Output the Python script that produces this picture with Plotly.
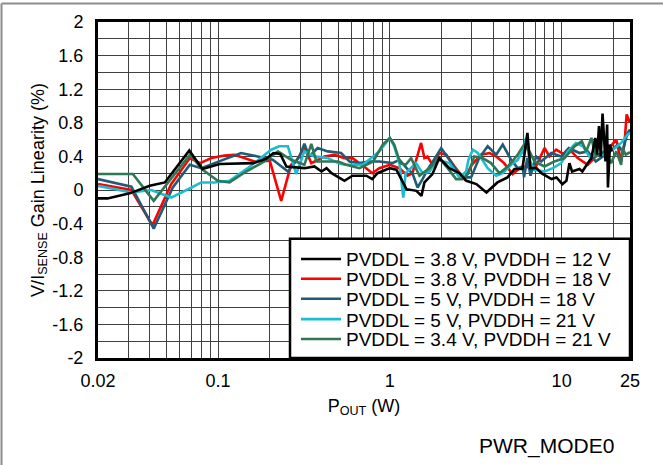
import plotly.graph_objects as go
import math

# ---------------- data ----------------
black_p = [0.02, 0.0227, 0.0306, 0.040, 0.049, 0.068, 0.081, 0.102, 0.16, 0.19, 0.21, 0.23, 0.25,
           0.318, 0.364, 0.40, 0.428, 0.458, 0.544, 0.606, 0.73, 0.79, 0.847, 1.0, 1.093, 1.249,
           1.428, 1.527, 1.589, 1.77, 1.94, 2.22, 2.54, 2.79, 3.19, 3.65, 4.23, 4.84, 5.31, 5.91,
           6.32, 6.58, 7.13, 7.63, 8.73, 9.33, 10.1, 10.66, 11.1, 11.5, 12.7, 13.2, 14.1, 14.9,
           15.7, 16.1, 16.5, 16.9, 17.3, 18.0, 18.4, 18.6, 19.1, 19.6]
black_v = [-0.10, -0.10, -0.04, 0.05, 0.09, 0.47, 0.25, 0.31, 0.32, 0.37, 0.44, 0.43, 0.28,
           0.26, 0.28, 0.22, 0.26, 0.20, 0.11, 0.17, 0.17, 0.13, 0.20, 0.26, 0.24, 0.01,
           -0.01, -0.07, 0.09, 0.19, 0.38, 0.26, 0.20, 0.11, 0.07, -0.03, 0.09, 0.15, 0.25, 0.25,
           0.68, 0.26, 0.26, 0.20, 0.13, 0.15, 0.07, 0.11, 0.32, 0.22, 0.25, 0.22, 0.31, 0.38,
           0.62, 0.42, 0.76, 0.40, 0.91, 0.34, 0.78, 0.03, 0.54, 0.46]

red_p = [0.02, 0.0313, 0.0415, 0.0533, 0.0685, 0.0787, 0.0914, 0.109, 0.1246, 0.163, 0.20, 0.233,
         0.266, 0.285, 0.318, 0.349, 0.416, 0.476, 0.544, 0.606, 0.728, 0.79, 0.868, 1.0, 1.137,
         1.266, 1.354, 1.52, 1.589, 1.655, 1.77, 1.94, 2.13, 2.38, 2.72, 3.0, 3.40, 3.80, 4.16,
         4.62, 5.19, 5.68, 6.21, 6.94, 7.95, 8.49, 9.29, 10.4, 11.4, 12.4, 14.2, 15.8, 18.6,
         20.8, 22.2, 23.2, 23.9, 25]
red_v = [0.07, 0.00, -0.42, 0.07, 0.38, 0.32, 0.38, 0.41, 0.42, 0.34, 0.35, -0.13,
         0.30, 0.34, 0.51, 0.32, 0.40, 0.42, 0.38, 0.38, 0.26, 0.20, 0.26, 0.30, 0.26,
         0.17, 0.20, 0.56, 0.38, 0.40, 0.30, 0.44, 0.42, 0.28, 0.13, 0.30, 0.42, 0.44, 0.40,
         0.32, 0.19, 0.26, 0.28, 0.24, 0.50, 0.40, 0.48, 0.42, 0.46, 0.38, 0.30, 0.40, 0.48,
         0.60, 0.34, 0.54, 0.90, 0.80]

teal_p = [0.02, 0.0313, 0.0422, 0.0545, 0.0685, 0.0798, 0.0952, 0.136, 0.170, 0.208, 0.255, 0.298,
          0.318, 0.339, 0.380, 0.435, 0.52, 0.582, 0.665, 0.76, 0.868, 1.035, 1.137, 1.266, 1.354,
          1.45, 1.55, 1.655, 1.83, 1.99, 2.22, 2.47, 2.72, 2.97, 3.31, 3.71, 4.16, 4.54, 5.08,
          5.55, 5.94, 6.04, 6.31, 6.59, 7.1, 7.6, 8.69, 9.94, 11.0, 12.7, 14.2, 15.8, 18.6,
          21.2, 22.6, 24.2, 25]
teal_v = [0.13, 0.04, -0.46, 0.03, 0.30, 0.26, 0.32, 0.44, 0.40, 0.36, 0.22, 0.40,
          0.55, 0.40, 0.50, 0.46, 0.44, 0.34, 0.32, 0.34, 0.34, 0.32, 0.36, 0.25, 0.20,
          0.03, 0.13, 0.24, 0.38, 0.50, 0.36, 0.22, 0.15, 0.15, 0.38, 0.52, 0.42, 0.54, 0.36,
          0.26, 0.28, 0.15, 0.38, 0.17, 0.40, 0.34, 0.44, 0.40, 0.50, 0.44, 0.46, 0.34, 0.44,
          0.54, 0.46, 0.68, 0.72]

cyan_p = [0.02, 0.0313, 0.0408, 0.0533, 0.0701, 0.0798, 0.0952, 0.1165, 0.149, 0.204, 0.227, 0.255,
          0.285, 0.318, 0.364, 0.435, 0.50, 0.544, 0.608, 0.695, 0.80, 0.868, 1.0, 1.06, 1.137,
          1.197, 1.236, 1.42, 1.55, 1.70, 1.89, 2.22, 2.54, 2.78, 2.87, 3.04, 3.25, 3.71, 4.16,
          4.54, 5.08, 5.55, 5.94, 6.21, 6.5, 6.94, 7.95, 8.89, 9.94, 10.9, 12.1, 13.3, 14.5,
          15.8, 17.8, 19.9, 22.2, 24.2, 25]
cyan_v = [0.05, -0.03, 0.00, -0.09, 0.03, 0.09, 0.09, 0.11, 0.26, 0.48, 0.52, 0.52,
          0.19, 0.46, 0.40, 0.38, 0.32, 0.30, 0.30, 0.30, 0.40, 0.46, 0.62, 0.52, 0.32,
          -0.09, 0.20, 0.32, 0.20, 0.22, 0.36, 0.32, 0.15, 0.22, 0.36, 0.48, 0.44, 0.26, 0.17,
          0.20, 0.30, 0.36, 0.46, 0.62, 0.36, 0.24, 0.22, 0.26, 0.32, 0.46, 0.56, 0.52, 0.40,
          0.42, 0.42, 0.48, 0.56, 0.66, 0.68]

green_p = [0.02, 0.0319, 0.0422, 0.0533, 0.0685, 0.0815, 0.0996, 0.1165, 0.1458, 0.186, 0.223,
           0.266, 0.298, 0.318, 0.349, 0.373, 0.435, 0.50, 0.557, 0.665, 0.80, 0.91, 1.0, 1.06,
           1.15, 1.236, 1.33, 1.487, 1.70, 1.94, 2.17, 2.43, 2.65, 2.87, 3.1, 3.46, 3.88, 4.34,
           4.86, 5.55, 6.04, 6.5, 6.94, 7.95, 9.08, 10.4, 11.9, 13.1, 13.9, 14.9, 15.8, 17.8,
           19.4, 20.8, 22.2, 22.6, 23.6, 25]
green_v = [0.19, 0.19, -0.13, 0.13, 0.42, 0.24, 0.11, 0.09, 0.22, 0.34, 0.46,
           0.36, 0.32, 0.30, 0.55, 0.34, 0.34, 0.34, 0.30, 0.26, 0.34, 0.54, 0.62, 0.54,
           0.32, 0.30, 0.38, 0.17, 0.26, 0.38, 0.26, 0.13, 0.13, 0.20, 0.40, 0.38, 0.32, 0.20,
           0.28, 0.42, 0.54, 0.46, 0.34, 0.28, 0.34, 0.38, 0.52, 0.58, 0.46, 0.62, 0.40, 0.46,
           0.32, 0.46, 0.30, 0.50, 0.42, 0.45]

series_names = ["PVDDL = 3.8 V, PVDDH = 12 V",
                "PVDDL = 3.8 V, PVDDH = 18 V",
                "PVDDL = 5 V, PVDDH = 18 V",
                "PVDDL = 5 V, PVDDH = 21 V",
                "PVDDL = 3.4 V, PVDDH = 21 V"]
series_colors = ["#000000", "#FF0000", "#1F5C75", "#1CBDD0", "#2F7757"]
series_x = [black_p, red_p, teal_p, cyan_p, green_p]
series_y = [black_v, red_v, teal_v, cyan_v, green_v]

x_grid = [0.02, 0.03, 0.04, 0.05, 0.06, 0.07, 0.08, 0.09,
          0.1, 0.2, 0.3, 0.4, 0.5, 0.6, 0.7, 0.8, 0.9,
          1, 2, 3, 4, 5, 6, 7, 8, 9, 10, 20, 25]
x_labels = {0.02: "0.02", 0.1: "0.1", 1: "1", 10: "10", 25: "25"}
y_grid = [round(-2 + 0.2 * i, 1) for i in range(21)]

for xs, ys in zip(series_x, series_y):
    assert len(xs) == len(ys)

FONT = "Liberation Sans, Arial, sans-serif"

fig = go.Figure()
# draw order: colored first, black last (black spikes sit on top in the reference)
order = [1, 2, 3, 4, 0]
legend_ids = ["legend", "legend2", "legend3", "legend4", "legend5"]
for i in order:
    fig.add_trace(go.Scatter(
        x=series_x[i], y=series_y[i], mode="lines", name=series_names[i],
        line=dict(color=series_colors[i], width=2.6),
        legend=legend_ids[i], showlegend=True))

# plot geometry (pixels)
L, R, T, B = 98, 33, 20, 107
W, H = 663, 465
pw, ph = W - L - R, H - T - B

def px2paper_x(px):
    return (px - L) / pw

def px2paper_y(py):
    return (H - B - py) / ph

row_py = [258.5, 278.5, 298.5, 319, 339]
legend_layouts = {}
for i, lid in enumerate(legend_ids):
    legend_layouts[lid] = dict(
        x=px2paper_x(296), xanchor="left",
        y=px2paper_y(row_py[i]), yanchor="middle",
        bgcolor="rgba(0,0,0,0)", borderwidth=0,
        font=dict(family=FONT, size=19, color="#000"),
        itemwidth=40, tracegroupgap=0)

GRID = "#404040"
fig.update_layout(
    width=W, height=H,
    margin=dict(l=L, r=R, t=T, b=B),
    paper_bgcolor="white", plot_bgcolor="white",
    font=dict(family=FONT, size=17, color="#000"),
    showlegend=True,
    **legend_layouts,
    xaxis=dict(
        type="log", range=[math.log10(0.02), math.log10(25)],
        tickmode="array", tickvals=x_grid,
        ticktext=[x_labels.get(v, "") for v in x_grid],
        showgrid=True, gridcolor=GRID, gridwidth=1,
        ticks="", ticklabelstandoff=4,
        showline=True, linecolor="#000", linewidth=3, mirror=True,
        zeroline=False,
        tickfont=dict(family=FONT, size=18),
        title=dict(text="P<sub>OUT</sub> (W)", font=dict(family=FONT, size=18), standoff=10),
    ),
    yaxis=dict(
        range=[-2, 2],
        tickmode="array", tickvals=y_grid,
        ticktext=[("%g" % v if abs(round(v / 0.4) * 0.4 - v) < 1e-6 else "") for v in y_grid],
        showgrid=True, gridcolor=GRID, gridwidth=1,
        ticks="", ticklabelstandoff=8,
        showline=True, linecolor="#000", linewidth=3, mirror=True,
        zeroline=False,
        tickfont=dict(family=FONT, size=18),
        title=dict(text="V/I<sub>SENSE</sub> Gain Linearity (%)",
                   font=dict(family=FONT, size=18), standoff=4),
    ),
)

# legend frame (white box with black border in the lower right of the plot)
fig.add_shape(type="rect", xref="paper", yref="paper",
              x0=px2paper_x(290), x1=1, y0=0, y1=px2paper_y(238),
              line=dict(color="#000", width=2.5), fillcolor="white", layer="above")

# outer gray frame (top and left edges)
fig.add_shape(type="line", xref="paper", yref="paper",
              x0=px2paper_x(1.5), x1=px2paper_x(1.5), y0=px2paper_y(466), y1=px2paper_y(1.5),
              line=dict(color="#8c8c8c", width=2))
fig.add_shape(type="line", xref="paper", yref="paper",
              x0=px2paper_x(1.5), x1=px2paper_x(664), y0=px2paper_y(1.5), y1=px2paper_y(1.5),
              line=dict(color="#8c8c8c", width=2))

fig.add_annotation(text="PWR_MODE0", xref="paper", yref="paper",
                   x=px2paper_x(546), y=px2paper_y(447), xanchor="center", yanchor="middle",
                   showarrow=False, font=dict(family=FONT, size=21, color="#000"))

fig.write_html("out.html", config={"displayModeBar": False},
               post_script="document.body.style.margin='0px';")
